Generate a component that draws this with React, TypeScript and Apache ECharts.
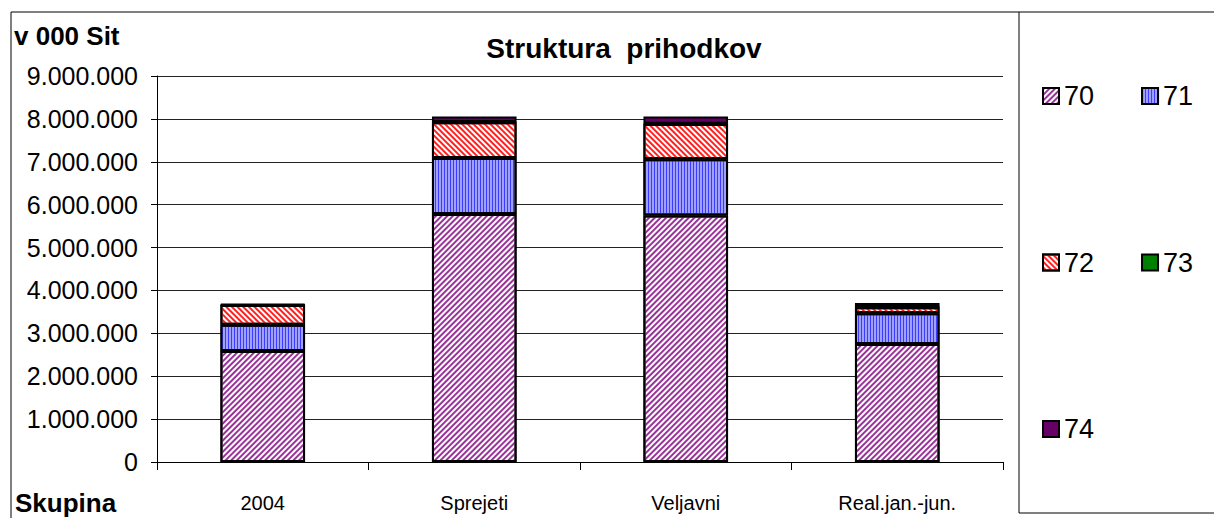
import React, { useEffect, useRef } from "react";
import * as echarts from "echarts";

const categories = ["2004", "Sprejeti", "Veljavni", "Real.jan.-jun."];
const s70 = [2590000, 5780000, 5750000, 2750000];
const s71 = [610000, 1310000, 1310000, 720000];
const s72 = [460000, 830000, 820000, 140000];
const s73 = [5000, 8000, 8000, 5000];
const s74 = [20000, 130000, 170000, 90000];
const yTicks = [0, 1000000, 2000000, 3000000, 4000000, 5000000, 6000000, 7000000, 8000000, 9000000];

const FONT = "'Liberation Sans', Arial, sans-serif";

function fmt(v: number): string {
  return String(Math.round(v)).replace(/\B(?=(\d{3})+(?!\d))/g, ".");
}

export default function App() {
  const ref = useRef<HTMLDivElement>(null);
  useEffect(() => {
    if (!ref.current) return;
    const chart = echarts.init(ref.current, undefined, { renderer: "svg" });
    const border = { borderColor: "#000", borderWidth: 2 };
    const mk = (name: string, data: number[], color: string, decal: any) => ({
      name,
      type: "bar",
      stack: "total",
      data,
      barWidth: "40%",
      itemStyle: { color, ...border, decal },
    });
    chart.setOption({
      animation: false,
      backgroundColor: "#fff",
      title: {
        text: "Struktura  prihodkov",
        left: 624,
        textAlign: "center",
        top: 33,
        padding: 0,
        textStyle: { fontFamily: FONT, fontSize: 28, fontWeight: "bold", color: "#000", lineHeight: 30 },
      },
      grid: { left: 157, right: 211, top: 76, bottom: 56, containLabel: false },
      xAxis: {
        type: "category",
        data: categories,
        axisLine: { lineStyle: { color: "#000", width: 1 } },
        axisTick: { show: true, length: 8, lineStyle: { color: "#000" } },
        axisLabel: { fontFamily: FONT, fontSize: 20, color: "#000", margin: 31 },
      },
      yAxis: {
        type: "value",
        min: yTicks[0],
        max: yTicks[yTicks.length - 1],
        interval: 1000000,
        axisLine: { show: true, lineStyle: { color: "#000", width: 1 } },
        axisTick: { show: true, length: 6, lineStyle: { color: "#000" } },
        splitLine: { lineStyle: { color: "#222", width: 1 } },
        axisLabel: { fontFamily: FONT, fontSize: 25, color: "#000", margin: 19, formatter: (v: number) => fmt(v) },
      },
      legend: [
        { data: ["70", "71"], left: 1042, top: 82.5, itemGap: 47 },
        { data: ["72", "73"], left: 1042, top: 249, itemGap: 47 },
        { data: ["74"], left: 1042, top: 415.5 },
      ].map((l) => ({
        ...l,
        orient: "horizontal",
        padding: 0,
        icon: "rect",
        itemWidth: 16,
        itemHeight: 16,
        textStyle: { fontFamily: FONT, fontSize: 27, color: "#000", lineHeight: 27 },
        itemStyle: { borderColor: "#000", borderWidth: 2 },
        selectedMode: false,
      })),
      series: [
        mk("70", s70, "#ffffff", { symbol: "rect", symbolSize: 1, color: "#993399", dashArrayX: [1, 0], dashArrayY: [1.8, 1.2], rotation: -Math.PI / 4 }),
        mk("71", s71, "#a0a0ff", { symbol: "rect", symbolSize: 1, color: "#3c3cff", dashArrayX: [1, 2], dashArrayY: [1, 0], rotation: 0 }),
        mk("72", s72, "#ffffff", { symbol: "rect", symbolSize: 1, color: "#ff2020", dashArrayX: [1, 0], dashArrayY: [1.8, 1.2], rotation: Math.PI / 4 }),
        mk("73", s73, "#008000", undefined),
        mk("74", s74, "#660066", undefined),
      ],
      graphic: [
        { type: "line", shape: { x1: 11, y1: 12, x2: 1214, y2: 12 }, style: { stroke: "#000", lineWidth: 1 } },
        { type: "line", shape: { x1: 11, y1: 12, x2: 11, y2: 518 }, style: { stroke: "#000", lineWidth: 1 } },
        { type: "line", shape: { x1: 1019, y1: 12, x2: 1019, y2: 513 }, style: { stroke: "#000", lineWidth: 1 } },
        { type: "line", shape: { x1: 1019, y1: 513, x2: 1214, y2: 513 }, style: { stroke: "#000", lineWidth: 1 } },
        { type: "text", x: 14, y: 36, style: { text: "v 000 Sit", font: `bold 26px ${FONT}`, fill: "#000", verticalAlign: "middle" } },
        { type: "text", x: 15, y: 503, style: { text: "Skupina", font: `bold 26px ${FONT}`, fill: "#000", verticalAlign: "middle" } },
      ],
    });
    return () => chart.dispose();
  }, []);
  return <div ref={ref} style={{ width: 1214, height: 518, position: "absolute", left: 0, top: 0 }} />;
}
